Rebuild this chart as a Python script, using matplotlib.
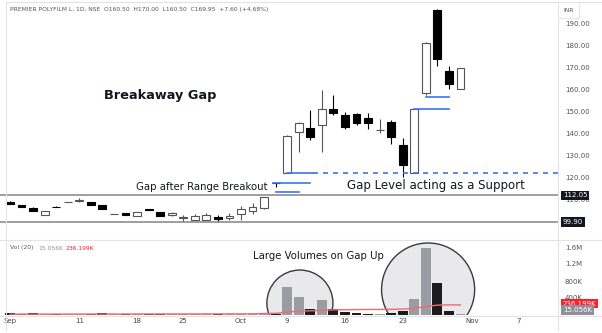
import numpy as np
import matplotlib
matplotlib.use("Agg")
import matplotlib.pyplot as plt
from matplotlib.patches import Ellipse
from matplotlib.lines import Line2D

plt.rcParams['font.family'] = ['DejaVu Sans']

# daily bars, 1 Sep 2023 .. 31 Oct 2023 (trading days only)
opens = [109.1, 107.7, 106.4, 103.4, 107.0, 109.0, 109.4, 109.2, 107.6, 103.6,
         104.1, 102.9, 106.0, 104.5, 103.0, 101.8, 100.9, 100.9, 102.3, 101.7,
         103.5, 105.1, 106.2, 117.7, 122.2, 141.0, 142.6, 144.1, 151.2, 148.6,
         149.1, 147.1, 141.6, 145.6, 135.0, 122.4, 158.8, 196.5, 168.8, 160.5]
highs = [109.4, 107.9, 106.6, 105.1, 107.1, 109.3, 110.9, 109.3, 107.7, 103.8,
         104.2, 104.7, 106.1, 104.6, 104.5, 103.2, 103.6, 104.1, 103.2, 104.1,
         107.4, 108.6, 111.5, 117.8, 139.5, 145.6, 150.9, 160.0, 157.7, 150.1,
         149.7, 149.7, 146.7, 146.4, 138.0, 151.4, 181.6, 197.0, 170.9, 170.0]
lows = [108.2, 106.8, 105.0, 103.3, 106.6, 108.9, 109.3, 107.7, 105.8, 103.5,
        103.1, 102.8, 105.4, 102.7, 102.8, 100.5, 100.9, 100.9, 100.5, 100.9,
        100.9, 103.6, 106.0, 116.0, 122.2, 131.9, 137.3, 132.0, 148.6, 142.1,
        144.1, 142.1, 140.6, 135.5, 120.3, 122.3, 157.7, 170.9, 160.3, 160.5]
closes = [108.2, 106.8, 105.0, 105.0, 106.7, 109.1, 110.1, 107.8, 105.9, 103.7,
          103.2, 104.6, 105.5, 102.8, 103.9, 101.9, 102.7, 103.2, 101.2, 102.6,
          105.9, 106.9, 111.3, 117.6, 139.2, 145.0, 138.5, 151.2, 149.7, 143.3,
          145.1, 145.1, 141.7, 138.5, 125.9, 151.2, 181.5, 174.0, 162.7, 169.95]

# volume in thousands and its 20-day average
volume_k = [40, 35, 42, 25, 30, 20, 22, 35, 40, 18, 30, 25, 22, 28, 18, 15, 22, 18,
            25, 15, 30, 35, 48, 30, 648, 424, 144, 360, 144, 64, 48, 24, 16, 48,
            104, 384, 1580, 760, 96, 15.056]
vol_ma_k = [20, 20, 21, 21, 21, 22, 22, 22, 23, 23, 23, 24, 24, 24, 25, 25, 25, 25,
            26, 26, 26, 27, 35, 40, 70, 90, 98, 112, 120, 124, 128, 130, 131, 133,
            140, 155, 200, 232, 238, 236.199]

date_ticks = [0, 6, 11, 15, 20, 24, 29, 34, 40, 44]
date_labels = ['Sep', '11', '18', '25', 'Oct', '9', '16', '23', 'Nov', '7']
price_ticks = [110, 120, 130, 140, 150, 160, 170, 180, 190]
vol_ticks_k = [400, 800, 1200, 1600]
vol_tick_labels = ['400K', '800K', '1.2M', '1.6M']

range_levels = [112.05, 99.90]
# blue gap lines: price, from bar, to bar
gap_lines = [(117.7, 22.8, 26.0), (113.6, 23.0, 25.0), (151.4, 35.0, 38.0), (156.8, 36.0, 38.0)]
support_level = 122.3

W, H = 602, 333
fig = plt.figure(figsize=(W / 100, H / 100), dpi=100)
right_px = 558
ax = fig.add_axes([0, 1 - 240 / H, right_px / W, 240 / H])
axv = fig.add_axes([0, 1 - 315 / H, right_px / W, 74 / H])

x0 = -10 / 11.55
x1 = (right_px - 10) / 11.55
for a in (ax, axv):
    a.set_xlim(x0, x1)
    for s in a.spines.values():
        s.set_visible(False)
    a.tick_params(length=0)

ax.set_ylim(190 - 216 / 2.2, 190 + 24 / 2.2)
axv.set_ylim(0, 74 / 17 * 400)

idx = np.arange(len(opens))
up = np.array(closes) >= np.array(opens)
dark = '#131722'

# candles
for i in idx:
    o, h, l, c = opens[i], highs[i], lows[i], closes[i]
    if up[i]:
        fc, ec = 'white', '#555555'
    else:
        fc, ec = 'black', 'black'
    ax.vlines(i, l, h, color=ec, lw=0.8, zorder=3)
    body = max(abs(c - o), 0.25)
    ax.bar(i, body, bottom=min(o, c), width=0.68, facecolor=fc, edgecolor=ec,
           linewidth=0.8, zorder=4)

# range lines
for lv in range_levels:
    ax.axhline(lv, color='#9e9e9e', lw=1.4, zorder=2)
    ax.annotate(f'{lv:.2f}', xy=(1, lv), xycoords=('axes fraction', 'data'),
                xytext=(3.5, 0), textcoords='offset points', ha='left', va='center',
                fontsize=5, color='white', annotation_clip=False, zorder=10,
                bbox=dict(boxstyle='square,pad=0.25', fc=dark, ec='none'))

# gap lines
blue = '#3d74e8'
for p, a0, a1 in gap_lines:
    ax.plot([a0, a1], [p, p], color=blue, lw=1.2, zorder=5)
ax.plot([24, 26.2], [support_level, support_level], color=blue, lw=1.2, zorder=5)
ax.plot([26.2, x1], [support_level, support_level], color=blue, lw=1.2,
        ls=(0, (3, 3)), zorder=5)

# price axis
ax.yaxis.tick_right()
ax.set_yticks(price_ticks)
ax.set_yticklabels([f'{t:.2f}' for t in price_ticks], fontsize=5, color='#555555')
ax.tick_params(axis='y', pad=5)
ax.set_xticks([])

# volume
vcol = np.where(up, '#9a9ba3', '#1c1c1c')
circles = [(25.1, 282, 2.86, 776), (36.2, 600, 4.03, 1094)]
for cx, cy, rx, ry in circles:
    axv.add_patch(Ellipse((cx, cy), 2 * rx, 2 * ry, facecolor='#e9e9ec',
                          edgecolor='#3a3a3a', lw=1.0, zorder=1))
axv.bar(idx, volume_k, width=0.85, color=vcol, zorder=3)
axv.plot(idx, vol_ma_k, color='#f06a72', lw=1.0, zorder=4)
axv.yaxis.tick_right()
axv.set_yticks(vol_ticks_k)
axv.set_yticklabels(vol_tick_labels, fontsize=5, color='#555555')
axv.tick_params(axis='y', pad=5)
axv.set_xticks(date_ticks)
axv.set_xticklabels(date_labels, fontsize=5, color='#444444')
axv.tick_params(axis='x', pad=2.5)
axv.annotate('236.199K', xy=(1, vol_ma_k[-1]), xycoords=('axes fraction', 'data'),
             xytext=(3.5, 1), textcoords='offset points', ha='left', va='center',
             fontsize=5, color='white', annotation_clip=False, zorder=10,
             bbox=dict(boxstyle='square,pad=0.25', fc='#f7222f', ec='none'))
axv.annotate('15.056K', xy=(1, volume_k[-1]), xycoords=('axes fraction', 'data'),
             xytext=(3.5, 3), textcoords='offset points', ha='left', va='center',
             fontsize=5, color='white', annotation_clip=False, zorder=10,
             bbox=dict(boxstyle='square,pad=0.25', fc='#8f9099', ec='none'))

# frame lines
for seg in [([6, 6], [2, 330]), ([right_px, right_px], [2, 330]), ([6, 602], [2, 2]),
            ([0, 602], [240, 240]), ([0, 602], [315.5, 315.5])]:
    fig.add_artist(Line2D([v / W for v in seg[0]], [1 - v / H for v in seg[1]],
                          color='#e0e3eb', lw=0.8))

# texts
fig.text(10 / W, 1 - 10 / H,
         'PREMIER POLYFILM L, 1D, NSE  O160.50  H170.00  L160.50  C169.95  +7.60 (+4.68%)',
         fontsize=4.3, color='#555555', va='center')
fig.text(10 / W, 1 - 248 / H, 'Vol (20)', fontsize=4.3, color='#555555', va='center')
fig.text(38 / W, 1 - 248 / H, '15.056K', fontsize=4.3, color='#8f9099', va='center')
fig.text(66 / W, 1 - 248 / H, '236.199K', fontsize=4.3, color='#f7222f', va='center')
fig.text(563 / W, 1 - 10 / H, 'INR', fontsize=4.3, color='#555555', va='center',
         bbox=dict(boxstyle='square,pad=0.9', fc='white', ec='#e0e3eb', lw=0.6))

fig.text(160 / W, 1 - 96 / H, 'Breakaway Gap', fontsize=9.3, fontweight='bold',
         color=dark, ha='center', va='center')
fig.text(202 / W, 1 - 187 / H, 'Gap after Range Breakout', fontsize=7.3,
         color=dark, ha='center', va='center')
fig.text(436 / W, 1 - 185 / H, 'Gap Level acting as a Support', fontsize=8.5,
         color=dark, ha='center', va='center')
fig.text(318 / W, 1 - 256 / H, 'Large Volumes on Gap Up', fontsize=7.3,
         color=dark, ha='center', va='center')

fig.savefig('out.png', dpi=100)
